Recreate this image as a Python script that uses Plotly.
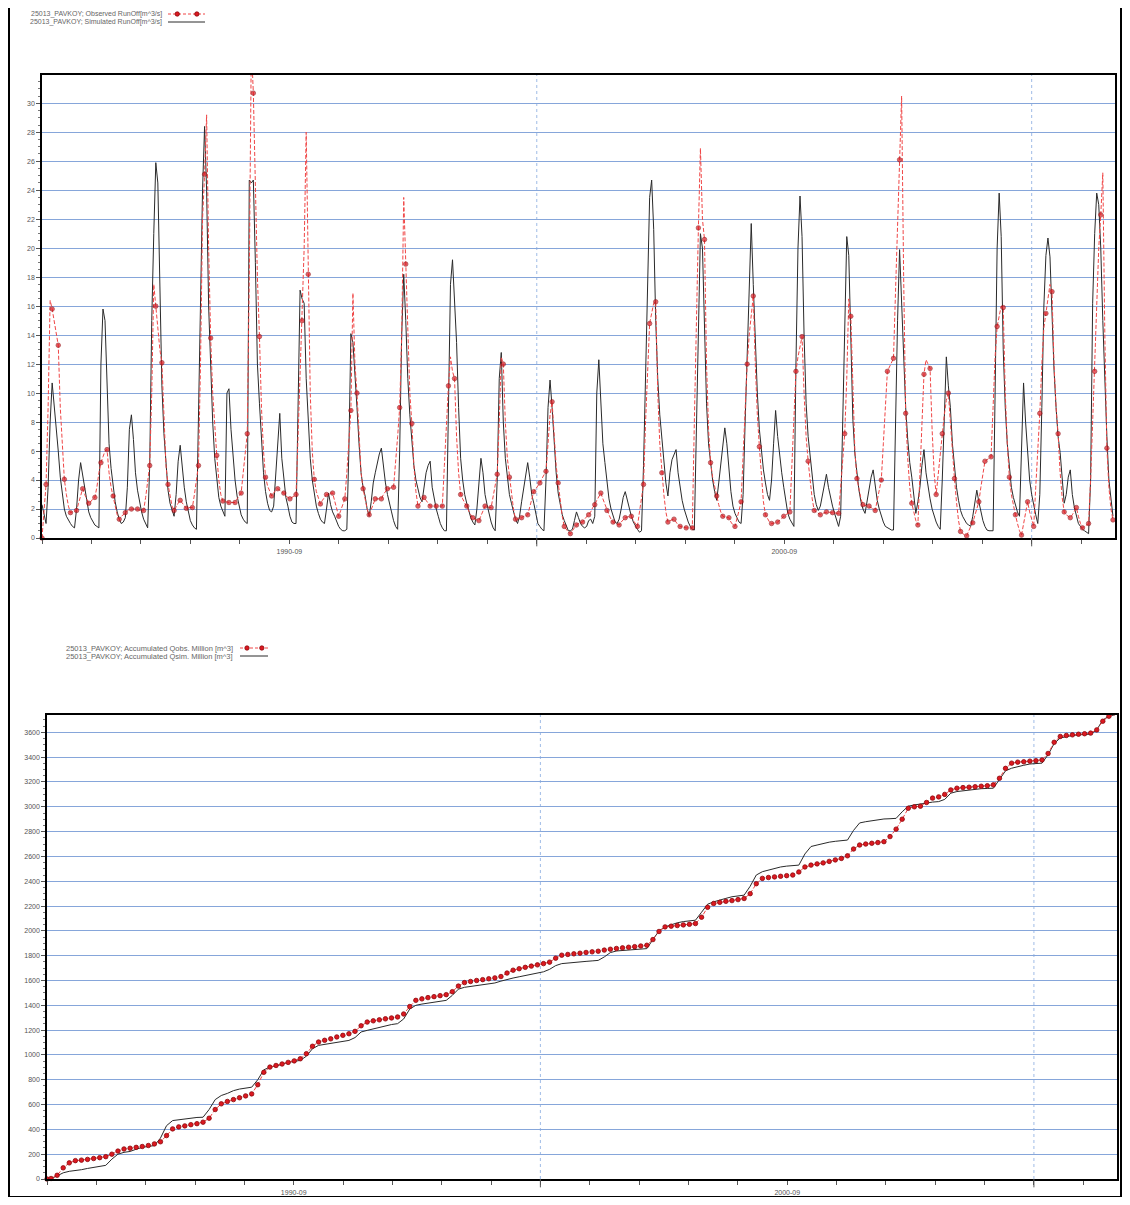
import pandas as pd
import plotly.graph_objects as go

# ---------------- data ----------------
START_DATE = "1985-09-01"
STEP_DAYS = 15          # runoff series step (days)
N_STEPS = 528           # axis span in steps

X_LABEL_DATES = ["1990-09-01", "2000-09-01"]
X_LABEL_TEXT = ["1990-09", "2000-09"]
DECADE_GRID = ["1995-09-01", "2005-09-01"]

SERIES_OBS = "25013_PAVKOY; Observed RunOff[m^3/s]"
SERIES_SIM = "25013_PAVKOY; Simulated RunOff[m^3/s]"
SERIES_ACC_OBS = "25013_PAVKOY; Accumulated Qobs. Million [m^3]"
SERIES_ACC_SIM = "25013_PAVKOY; Accumulated Qsim. Million [m^3]"

SIM_RUNOFF = [
    2.3, 1.5, 1.0, 3.5, 8.0, 10.7, 9.3, 7.5, 6.0, 4.2, 3.0, 2.0,
    1.5, 1.2, 1.0, 0.8, 0.7, 2.0, 4.0, 5.2, 4.3, 3.4, 2.5, 1.8,
    1.4, 1.1, 0.9, 0.8, 0.7, 12.0, 15.8, 15.0, 10.0, 6.5, 4.8, 3.5,
    2.5, 1.8, 1.3, 1.0, 1.1, 1.4, 3.5, 7.5, 8.5, 6.8, 4.5, 3.3,
    2.5, 1.8, 1.3, 1.0, 0.7, 5.0, 15.0, 21.0, 25.9, 24.5, 16.0, 10.5,
    7.2, 5.0, 3.3, 2.4, 1.9, 1.5, 3.0, 5.3, 6.4, 4.8, 3.5, 2.5,
    1.7, 1.2, 0.9, 0.7, 0.6, 8.0, 16.2, 24.0, 28.4, 24.0, 16.0, 11.6,
    8.0, 5.5, 4.0, 2.8, 2.2, 1.8, 1.5, 10.0, 10.3, 7.5, 5.6, 4.0,
    2.9, 2.2, 1.6, 1.3, 1.1, 1.0, 24.7, 24.5, 24.7, 19.0, 12.0, 9.3,
    6.5, 4.5, 3.2, 2.4, 1.9, 1.8, 2.2, 4.5, 7.0, 8.6, 5.5, 4.0,
    2.8, 2.2, 1.5, 1.1, 1.0, 1.0, 9.0, 17.1, 16.5, 16.2, 11.0, 8.2,
    5.5, 4.0, 3.0, 2.2, 1.7, 1.3, 1.1, 1.0, 2.0, 3.1, 2.3, 1.8,
    1.5, 1.1, 0.8, 0.6, 0.5, 0.5, 0.6, 6.0, 14.1, 13.5, 11.5, 9.0,
    6.5, 4.5, 3.5, 2.9, 2.0, 1.5, 2.5, 3.8, 4.5, 5.2, 5.8, 6.2,
    4.8, 3.8, 3.0, 2.3, 1.8, 1.2, 0.8, 0.6, 6.0, 14.0, 18.2, 15.0,
    11.0, 8.5, 6.5, 5.0, 4.0, 3.4, 2.8, 2.5, 3.5, 4.5, 5.0, 5.3,
    3.5, 2.6, 2.0, 1.5, 1.0, 0.7, 0.5, 0.5, 10.0, 17.5, 19.2, 16.0,
    13.5, 9.0, 5.5, 4.0, 3.0, 2.4, 1.9, 1.4, 1.1, 0.9, 2.0, 4.0,
    5.5, 4.5, 3.0, 2.3, 1.6, 1.1, 0.7, 0.5, 4.0, 11.0, 12.8, 8.0,
    5.5, 4.0, 3.0, 2.4, 1.8, 1.3, 1.0, 1.5, 2.5, 3.5, 4.5, 5.2,
    4.2, 3.0, 2.4, 1.8, 1.0, 0.8, 0.6, 0.5, 4.0, 9.0, 10.9, 9.0,
    6.5, 4.5, 3.1, 2.2, 1.6, 1.2, 0.8, 0.5, 0.5, 0.6, 1.2, 1.8,
    1.4, 1.0, 0.8, 0.7, 0.8, 1.2, 1.3, 1.0, 1.5, 10.0, 12.3, 9.0,
    6.5, 5.2, 3.8, 2.7, 2.0, 1.5, 1.1, 1.0, 1.3, 2.0, 2.8, 3.2,
    2.6, 2.0, 1.5, 1.1, 0.8, 0.6, 0.4, 0.5, 5.0, 12.0, 19.0, 23.5,
    24.7, 21.3, 15.0, 11.0, 8.5, 7.0, 5.0, 3.8, 2.9, 4.5, 5.4, 5.8,
    6.1, 4.5, 3.5, 2.6, 2.0, 1.5, 1.1, 0.8, 0.6, 0.55, 8.0, 16.2,
    21.0, 20.0, 14.0, 9.3, 6.5, 5.0, 4.0, 3.2, 2.6, 3.8, 5.2, 6.5,
    7.6, 6.5, 4.7, 3.2, 2.2, 1.7, 1.4, 1.1, 1.0, 3.0, 8.0, 13.0,
    18.0, 21.7, 17.5, 13.0, 10.0, 7.5, 5.8, 4.7, 3.8, 3.0, 2.6, 4.0,
    6.5, 8.8, 7.0, 5.5, 4.5, 3.5, 2.5, 1.7, 1.3, 1.0, 0.8, 12.0,
    20.0, 23.6, 20.8, 14.0, 9.3, 7.0, 5.5, 4.2, 3.0, 2.3, 1.9, 2.2,
    3.0, 3.8, 4.4, 3.5, 2.7, 2.2, 1.7, 1.2, 0.8, 1.5, 8.0, 15.0,
    20.8, 19.5, 13.0, 8.2, 5.8, 4.5, 3.3, 2.5, 2.0, 1.7, 2.5, 3.5,
    4.2, 4.7, 3.6, 2.6, 2.0, 1.5, 1.1, 0.8, 0.7, 0.6, 0.55, 0.55,
    8.0, 15.0, 19.9, 16.0, 12.0, 9.0, 6.8, 5.2, 4.2, 2.8, 1.7, 2.5,
    3.5, 5.0, 6.1, 4.5, 3.5, 2.7, 2.0, 1.5, 1.1, 0.8, 0.6, 4.0,
    9.0, 12.5, 10.5, 9.0, 6.5, 4.7, 3.5, 2.6, 1.9, 1.5, 1.2, 1.0,
    0.9, 0.8, 1.5, 2.5, 3.3, 2.5, 1.8, 1.2, 0.8, 0.55, 0.5, 0.5,
    0.5, 10.0, 20.0, 23.8, 20.8, 13.0, 9.0, 6.5, 4.7, 3.5, 2.8, 2.2,
    1.8, 1.5, 6.0, 10.7, 8.0, 5.9, 4.0, 3.0, 2.2, 1.6, 1.0, 3.0,
    9.0, 16.0, 19.5, 20.7, 19.4, 15.0, 11.6, 9.0, 7.0, 5.9, 4.0, 2.4,
    3.0, 4.2, 4.7, 3.0, 2.1, 1.5, 1.0, 0.8, 0.6, 0.5, 0.4, 0.3,
    4.0, 16.2, 21.0, 23.8, 23.0, 20.0, 15.0, 10.5, 7.0, 4.0, 2.5, 1.5,
]

OBS_RUNOFF = [
    0.0, 2.0, 3.7, 9.0, 16.4, 15.8, 15.0, 14.0, 13.3, 9.0, 6.0, 4.05,
    3.0, 2.2, 1.75, 1.8, 1.85, 1.9, 2.4, 2.9, 3.4, 3.0, 2.7, 2.4,
    2.5, 2.7, 2.8, 3.5, 4.5, 5.2, 5.6, 6.0, 6.1, 4.5, 3.5, 2.9,
    2.2, 1.6, 1.3, 1.5, 1.6, 1.75, 1.9, 2.0, 2.0, 2.0, 2.0, 2.0,
    1.9, 1.9, 1.9, 2.8, 4.0, 5.0, 10.0, 17.5, 16.0, 14.5, 13.0, 12.1,
    8.0, 5.0, 3.7, 2.8, 2.2, 1.9, 2.2, 2.4, 2.6, 2.4, 2.2, 2.05,
    2.1, 2.1, 2.1, 3.0, 4.0, 5.0, 12.0, 22.0, 25.1, 29.2, 20.0, 13.8,
    10.0, 7.5, 5.7, 4.0, 3.0, 2.55, 2.5, 2.5, 2.45, 2.45, 2.45, 2.45,
    2.7, 2.9, 3.1, 4.5, 6.0, 7.2, 18.0, 34.0, 30.7, 24.0, 18.0, 13.9,
    9.0, 6.0, 4.2, 3.6, 3.2, 2.9, 3.1, 3.3, 3.4, 3.3, 3.2, 3.1,
    2.9, 2.8, 2.7, 2.8, 2.9, 3.0, 7.0, 11.0, 15.0, 20.0, 28.0, 18.2,
    10.0, 6.0, 4.05, 3.2, 2.7, 2.35, 2.6, 2.8, 3.0, 3.0, 3.1, 3.1,
    2.5, 1.9, 1.5, 1.9, 2.3, 2.7, 4.5, 6.5, 8.8, 16.9, 12.0, 10.0,
    7.0, 4.5, 3.4, 2.6, 2.0, 1.6, 2.0, 2.4, 2.7, 2.7, 2.7, 2.7,
    3.0, 3.2, 3.4, 3.4, 3.5, 3.5, 5.0, 7.0, 9.0, 14.0, 23.5, 18.9,
    13.0, 10.0, 7.9, 5.0, 3.2, 2.2, 2.4, 2.6, 2.8, 2.6, 2.4, 2.2,
    2.2, 2.2, 2.2, 2.2, 2.2, 2.2, 5.0, 8.0, 10.5, 12.5, 11.5, 11.0,
    7.0, 4.5, 3.0, 2.7, 2.4, 2.2, 1.9, 1.6, 1.4, 1.3, 1.25, 1.2,
    1.5, 1.9, 2.2, 2.2, 2.1, 2.1, 2.8, 3.6, 4.4, 8.0, 12.5, 12.0,
    8.0, 5.5, 4.2, 3.0, 2.0, 1.3, 1.3, 1.4, 1.4, 1.5, 1.5, 1.6,
    2.1, 2.7, 3.2, 3.4, 3.6, 3.8, 4.1, 4.4, 4.6, 6.5, 8.5, 9.4,
    7.0, 5.0, 3.8, 2.5, 1.5, 0.8, 0.6, 0.4, 0.3, 0.5, 0.7, 0.9,
    1.0, 1.05, 1.1, 1.3, 1.45, 1.6, 1.8, 2.1, 2.3, 2.6, 2.9, 3.1,
    2.7, 2.3, 1.9, 1.6, 1.3, 1.1, 1.0, 0.95, 0.9, 1.1, 1.25, 1.4,
    1.45, 1.5, 1.5, 1.2, 1.0, 0.8, 1.8, 2.8, 3.7, 8.0, 12.0, 14.8,
    15.5, 16.2, 16.3, 10.0, 6.5, 4.5, 3.0, 1.8, 1.1, 1.2, 1.25, 1.3,
    1.1, 0.9, 0.8, 0.75, 0.7, 0.7, 0.7, 0.7, 0.7, 8.0, 16.0, 21.4,
    26.9, 22.0, 20.6, 12.0, 7.5, 5.2, 4.2, 3.5, 2.9, 2.3, 1.8, 1.5,
    1.45, 1.4, 1.4, 1.1, 0.9, 0.8, 1.3, 1.9, 2.5, 6.0, 9.5, 12.0,
    14.0, 15.5, 16.7, 12.0, 8.5, 6.3, 4.0, 2.5, 1.6, 1.3, 1.1, 1.0,
    1.0, 1.05, 1.1, 1.2, 1.35, 1.5, 1.6, 1.7, 1.8, 5.0, 8.5, 11.5,
    12.5, 13.3, 13.9, 10.0, 7.0, 5.3, 3.8, 2.7, 1.9, 1.8, 1.7, 1.6,
    1.7, 1.75, 1.8, 1.8, 1.75, 1.75, 1.7, 1.7, 1.7, 3.5, 5.5, 7.2,
    11.0, 16.5, 15.3, 10.0, 6.0, 4.1, 3.3, 2.7, 2.3, 2.25, 2.2, 2.2,
    2.1, 2.0, 1.9, 2.6, 3.3, 4.0, 6.5, 9.0, 11.5, 11.8, 12.1, 12.4,
    17.0, 22.0, 26.1, 30.5, 18.0, 8.6, 5.5, 3.5, 2.4, 1.8, 1.2, 0.9,
    4.5, 8.5, 11.3, 12.3, 12.0, 11.7, 7.5, 4.5, 3.0, 4.5, 6.0, 7.2,
    8.5, 9.5, 10.0, 8.0, 5.8, 4.1, 2.5, 1.2, 0.45, 0.3, 0.2, 0.15,
    0.5, 0.8, 1.05, 1.5, 2.0, 2.5, 3.5, 4.5, 5.3, 5.4, 5.5, 5.6,
    9.0, 12.5, 14.6, 15.3, 16.0, 15.9, 10.0, 6.5, 4.2, 3.0, 2.2, 1.6,
    1.0, 0.5, 0.2, 1.0, 1.8, 2.5, 1.8, 1.2, 0.8, 3.5, 6.0, 8.6,
    12.0, 14.5, 15.5, 16.5, 17.5, 17.0, 12.0, 9.0, 7.2, 4.5, 2.8, 1.8,
    1.6, 1.5, 1.4, 1.6, 1.9, 2.1, 1.5, 1.0, 0.7, 0.8, 0.9, 1.0,
    4.0, 8.0, 11.5, 16.0, 20.0, 22.3, 25.2, 14.0, 6.2, 3.5, 2.0, 1.25,
]

# accumulated volumes (million m^3), sampled every 45 days
ACC_OBS = [
    0, 4, 30, 90, 130, 148, 152, 158, 165, 172, 180, 200,
    225, 242, 248, 255, 262, 270, 283, 300, 350, 404, 420, 428,
    438, 446, 458, 490, 560, 606, 625, 640, 655, 670, 686, 760,
    860, 902, 915, 927, 940, 952, 969, 1010, 1070, 1104, 1118, 1130,
    1145, 1158, 1171, 1190, 1235, 1265, 1275, 1283, 1291, 1298, 1306, 1330,
    1390, 1440, 1452, 1462, 1470, 1478, 1486, 1510, 1555, 1583, 1592, 1600,
    1607, 1614, 1621, 1632, 1660, 1683, 1695, 1706, 1716, 1726, 1736, 1748,
    1780, 1804, 1810, 1815, 1820, 1826, 1831, 1836, 1845, 1852, 1858, 1863,
    1868, 1873, 1878, 1884, 1930, 1995, 2032, 2038, 2043, 2048, 2053, 2059,
    2110, 2190, 2221, 2230, 2238, 2244, 2252, 2261, 2300, 2380, 2423, 2430,
    2435, 2440, 2445, 2450, 2475, 2515, 2530, 2540, 2548, 2560, 2572, 2584,
    2605, 2660, 2692, 2700, 2706, 2712, 2719, 2760, 2820, 2900, 2988, 3000,
    3005, 3035, 3070, 3080, 3100, 3136, 3150, 3155, 3158, 3162, 3166, 3170,
    3177, 3230, 3310, 3352, 3360, 3363, 3368, 3372, 3378, 3430, 3520, 3567,
    3575, 3580, 3585, 3589, 3594, 3620, 3690, 3730, 3742,
]

ACC_SIM = [
    0, 3, 25, 50, 62, 67, 75, 85, 95, 102, 110, 160,
    200, 215, 222, 240, 255, 263, 269, 330, 430, 471, 478, 488,
    494, 496, 498, 560, 640, 673, 690, 712, 725, 733, 740, 800,
    880, 902, 910, 925, 940, 948, 956, 990, 1050, 1077, 1085, 1092,
    1100, 1108, 1117, 1140, 1185, 1198, 1210, 1222, 1235, 1245, 1252, 1290,
    1370, 1400, 1410, 1418, 1428, 1435, 1440, 1480, 1530, 1545, 1552, 1560,
    1568, 1575, 1580, 1595, 1610, 1620, 1630, 1640, 1650, 1660, 1670, 1690,
    1720, 1736, 1742, 1746, 1750, 1754, 1758, 1762, 1790, 1825, 1838, 1843,
    1848, 1852, 1855, 1857, 1930, 2000, 2032, 2050, 2065, 2075, 2081, 2086,
    2150, 2215, 2234, 2245, 2262, 2275, 2282, 2288, 2360, 2450, 2477, 2490,
    2500, 2515, 2522, 2527, 2530, 2620, 2680, 2692, 2705, 2715, 2722, 2728,
    2732, 2810, 2870, 2880, 2888, 2896, 2902, 2904, 2907, 2960, 3005, 3015,
    3020, 3030, 3038, 3042, 3060, 3110, 3123, 3130, 3135, 3140, 3146, 3148,
    3150, 3220, 3290, 3311, 3325, 3335, 3345, 3350, 3352, 3420, 3510, 3555,
    3567, 3575, 3580, 3583, 3586, 3620, 3700, 3730, 3742,
]

assert len(SIM_RUNOFF) == len(OBS_RUNOFF) == N_STEPS, (len(SIM_RUNOFF), len(OBS_RUNOFF))

# ---------------- layout constants ----------------
# The page body has an 8px margin, so the figure is 16px smaller than the window
# and reference pixel positions are shifted by that margin.
PAGE_MARGIN = 8
W, H = 1130 - 2 * PAGE_MARGIN, 1205 - 2 * PAGE_MARGIN
FONT = "Arial, Liberation Sans, sans-serif"
RED = "#dc1820"
RED_DARK = "#8a0a0e"
GRID = "#86a6da"
TXT = "#555555"


def px(x):
    return (x - PAGE_MARGIN) / W


def py(y):
    return 1 - (y - PAGE_MARGIN) / H


dates = pd.date_range(START_DATE, periods=N_STEPS, freq=f"{STEP_DAYS}D")
acc_idx = [0] + list(range(2, N_STEPS, 3))
acc_dates = dates[acc_idx]
assert len(ACC_OBS) == len(ACC_SIM) == len(acc_idx), (len(ACC_OBS), len(ACC_SIM), len(acc_idx))
x_end = pd.Timestamp(START_DATE) + pd.Timedelta(days=STEP_DAYS * N_STEPS)

obs_marker_sizes = [4.5 if (i == 0 or i % 3 == 2) else 0 for i in range(N_STEPS)]

fig = go.Figure()

# top: runoff
fig.add_trace(go.Scatter(
    x=dates, y=SIM_RUNOFF, name=SERIES_SIM, mode="lines",
    line=dict(color="#2a2a2a", width=1), xaxis="x", yaxis="y", showlegend=False,
))
fig.add_trace(go.Scatter(
    x=dates, y=OBS_RUNOFF, name=SERIES_OBS, mode="lines+markers",
    line=dict(color="#f04646", width=1, dash="4px,2px"),
    marker=dict(size=obs_marker_sizes, color=RED, line=dict(color=RED_DARK, width=0.8)),
    xaxis="x", yaxis="y", showlegend=False, cliponaxis=False,
))

# bottom: accumulated volumes
fig.add_trace(go.Scatter(
    x=acc_dates, y=ACC_SIM, name=SERIES_ACC_SIM, mode="lines",
    line=dict(color="#2a2a2a", width=1), xaxis="x2", yaxis="y2", showlegend=False,
))
fig.add_trace(go.Scatter(
    x=acc_dates, y=ACC_OBS, name=SERIES_ACC_OBS, mode="lines+markers",
    line=dict(color="#f04646", width=1, dash="4px,2px"),
    marker=dict(size=4.5, color=RED, line=dict(color=RED_DARK, width=0.8)),
    xaxis="x2", yaxis="y2", showlegend=False, cliponaxis=False,
))

xaxis_common = dict(
    type="date",
    range=[pd.Timestamp(START_DATE), x_end],
    tickmode="array", tickvals=X_LABEL_DATES, ticktext=X_LABEL_TEXT,
    ticks="", showgrid=False, zeroline=False,
    showline=True, linecolor="#000000", linewidth=1.5, mirror=True,
    tickfont=dict(family=FONT, size=7, color=TXT),
    ticklabelstandoff=6,
    minor=dict(ticks="outside", ticklen=4, tickcolor="#555555", tickwidth=1,
               dtick="M12", tick0=START_DATE, showgrid=False),
    automargin=False,
)
yaxis_common = dict(
    showgrid=True, gridcolor=GRID, gridwidth=1, zeroline=False,
    showline=True, linecolor="#000000", linewidth=1.5, mirror=True,
    ticks="outside", ticklen=4, tickcolor="#555555",
    tickfont=dict(family=FONT, size=7, color=TXT),
    automargin=False,
)

fig.update_layout(
    width=W, height=H,
    margin=dict(l=0, r=0, t=0, b=0),
    paper_bgcolor="white", plot_bgcolor="white",
    xaxis=dict(domain=[px(42), px(1115)], anchor="y", **xaxis_common),
    yaxis=dict(domain=[py(538), py(75)], anchor="x", range=[0, 31.95], dtick=2, tick0=0,
               minor=dict(ticks="outside", ticklen=2, dtick=0.5, tickcolor="#777777", showgrid=False),
               **yaxis_common),
    xaxis2=dict(domain=[px(47), px(1117)], anchor="y2", **xaxis_common),
    yaxis2=dict(domain=[py(1179), py(715)], anchor="x2", range=[0, 3740], dtick=200, tick0=0,
                minor=dict(ticks="outside", ticklen=2, dtick=50, tickcolor="#777777", showgrid=False),
                **yaxis_common),
    showlegend=False,
)

shapes = []
# decade grid lines (dotted) and major ticks
for xa, ya in (("x", "y domain"), ("x2", "y2 domain")):
    for d in DECADE_GRID:
        shapes.append(dict(type="line", xref=xa, yref=ya, x0=d, x1=d, y0=0, y1=1,
                           line=dict(color="#9fbbe6", width=1, dash="dot"), layer="below"))
        shapes.append(dict(type="line", xref=xa, yref=ya, x0=d, x1=d, y0=-0.018, y1=0,
                           line=dict(color="#555555", width=1)))


# legend samples (drawn glyphs) + text
def legend_block(x_text_right, y1, y2, x_s0, x_s1, t1, t2, size):
    anns = []
    for y, t in ((y1, t1), (y2, t2)):
        anns.append(dict(xref="paper", yref="paper", x=px(x_text_right), y=py(y), text=t,
                         showarrow=False, xanchor="right", yanchor="middle",
                         font=dict(family=FONT, size=size, color="#666666")))
    shp = [
        dict(type="line", xref="paper", yref="paper", x0=px(x_s0), x1=px(x_s1), y0=py(y1), y1=py(y1),
             line=dict(color="#f04646", width=1, dash="3px,2px")),
        dict(type="line", xref="paper", yref="paper", x0=px(x_s0), x1=px(x_s1), y0=py(y2), y1=py(y2),
             line=dict(color="#2a2a2a", width=1)),
    ]
    for cx in (x_s0 + (x_s1 - x_s0) * 0.25, x_s0 + (x_s1 - x_s0) * 0.78):
        shp.append(dict(type="circle", xref="paper", yref="paper",
                        x0=px(cx - 2.2), x1=px(cx + 2.2), y0=py(y1 + 2.2), y1=py(y1 - 2.2),
                        fillcolor=RED, line=dict(color=RED_DARK, width=0.8)))
    return anns, shp


a1, s1 = legend_block(164, 14, 22, 168, 205, SERIES_OBS, SERIES_SIM, 7)
a2, s2 = legend_block(235, 648, 656, 240, 268, SERIES_ACC_OBS, SERIES_ACC_SIM, 7.5)
shapes += s1 + s2

# outer frame (left, right and bottom edges of the screenshot border)
shapes.append(dict(type="rect", xref="paper", yref="paper",
                   x0=px(9), x1=px(1121), y0=py(1197), y1=1.02,
                   line=dict(color="#000000", width=2), fillcolor="rgba(0,0,0,0)"))

fig.update_layout(shapes=shapes, annotations=a1 + a2)

fig.write_html("out.html")
